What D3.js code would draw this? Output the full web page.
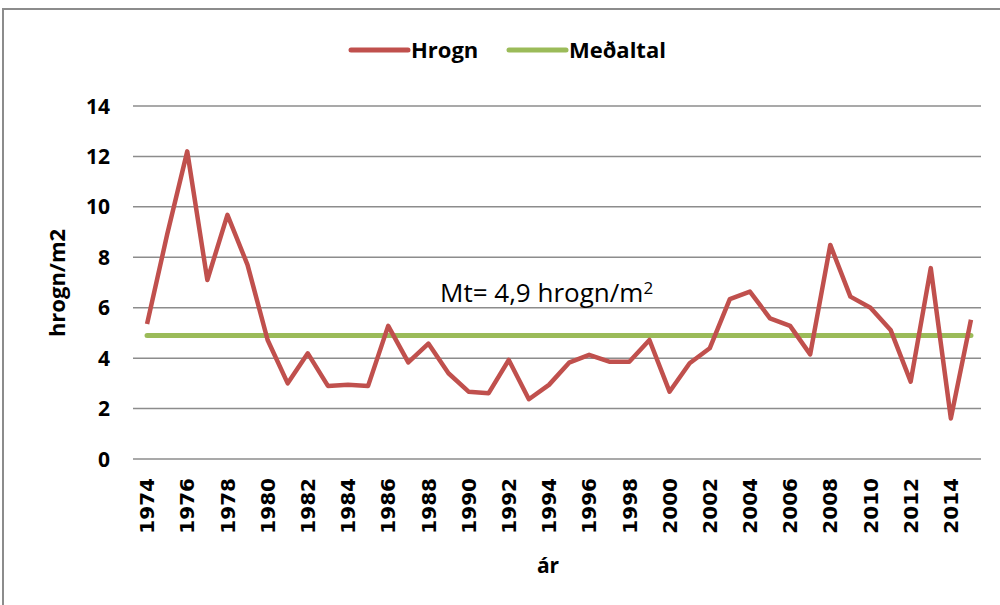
<!DOCTYPE html>
<html>
<head>
<meta charset="utf-8">
<script src="https://cdn.jsdelivr.net/npm/d3@7"></script>
<style>
  body { margin: 0; background: #fff; }
  svg { display: block; font-family: "Open Sans", sans-serif; }
</style>
</head>
<body>
<div id="chart"></div>
<script>
// Data
var years = [1974, 1975, 1976, 1977, 1978, 1979, 1980, 1981, 1982, 1983, 1984, 1985, 1986, 1987,
             1988, 1989, 1990, 1991, 1992, 1993, 1994, 1995, 1996, 1997, 1998, 1999, 2000, 2001,
             2002, 2003, 2004, 2005, 2006, 2007, 2008, 2009, 2010, 2011, 2012, 2013, 2014, 2015];
var hrogn = [5.35, 8.9, 12.2, 7.1, 9.68, 7.7, 4.72, 3.0, 4.19, 2.9, 2.94, 2.9, 5.28, 3.83,
             4.58, 3.4, 2.67, 2.61, 3.93, 2.37, 2.94, 3.82, 4.13, 3.86, 3.86, 4.72, 2.67, 3.8,
             4.39, 6.34, 6.64, 5.58, 5.28, 4.15, 8.49, 6.44, 6.0, 5.12, 3.07, 7.57, 1.61, 5.52];
var medaltal = 4.9;
var yTicks = [0, 2, 4, 6, 8, 10, 12, 14];
var xTickYears = [1974, 1976, 1978, 1980, 1982, 1984, 1986, 1988, 1990, 1992, 1994, 1996, 1998,
                  2000, 2002, 2004, 2006, 2008, 2010, 2012, 2014];

var width = 1000, height = 605;
var margin = { top: 106, right: 19, bottom: 146, left: 137 };
var plotW = width - margin.left - margin.right;
var plotH = height - margin.top - margin.bottom;

var svg = d3.select("#chart").append("svg")
    .attr("width", width)
    .attr("height", height);

// outer border
svg.append("rect")
    .attr("x", 3).attr("y", 9)
    .attr("width", 1010).attr("height", 610)
    .attr("fill", "none")
    .attr("stroke", "#8c8c8c")
    .attr("stroke-width", 2);

var g = svg.append("g")
    .attr("transform", "translate(" + margin.left + "," + margin.top + ")");

var x = d3.scaleBand()
    .domain(years)
    .range([0, plotW]);

var y = d3.scaleLinear()
    .domain([0, 14])
    .range([plotH, 0]);

function cx(d) { return x(d) + x.bandwidth() / 2; }

// gridlines (with small ticks to the left)
g.selectAll(".grid")
    .data(yTicks)
    .enter().append("line")
    .attr("x1", -4).attr("x2", plotW)
    .attr("y1", function (d) { return y(d); })
    .attr("y2", function (d) { return y(d); })
    .attr("stroke", "#8c8c8c")
    .attr("stroke-width", 1.5);

// y tick labels
g.selectAll(".ylab")
    .data(yTicks)
    .enter().append("text")
    .attr("x", -27)
    .attr("y", function (d) { return y(d); })
    .attr("dy", "0.36em")
    .attr("text-anchor", "end")
    .style("font-size", "21px")
    .style("font-weight", "bold")
    .text(function (d) { return d; });

// x tick labels
g.selectAll(".xlab")
    .data(xTickYears)
    .enter().append("text")
    .attr("transform", function (d) {
        return "translate(" + cx(d) + "," + (plotH + 19) + ") rotate(-90)";
    })
    .attr("dy", "0.36em")
    .attr("text-anchor", "end")
    .style("font-family", "DejaVu Sans")
    .style("font-size", "20px")
    .style("font-weight", "bold")
    .text(function (d) { return d; });

// axis titles
svg.append("text")
    .attr("transform", "translate(57,283) rotate(-90)")
    .attr("dy", "0.36em")
    .attr("text-anchor", "middle")
    .style("font-size", "22px")
    .style("font-weight", "bold")
    .text("hrogn/m2");

svg.append("text")
    .attr("x", 548)
    .attr("y", 573)
    .attr("text-anchor", "middle")
    .style("font-size", "21px")
    .style("font-weight", "bold")
    .text("ár");

// mean line
g.append("line")
    .attr("x1", cx(years[0]))
    .attr("x2", cx(years[years.length - 1]))
    .attr("y1", y(medaltal))
    .attr("y2", y(medaltal))
    .attr("stroke", "#9bbb59")
    .attr("stroke-width", 5)
    .attr("stroke-linecap", "round");

// hrogn line
var line = d3.line()
    .x(function (d, i) { return cx(years[i]); })
    .y(function (d) { return y(d); });

g.append("path")
    .datum(hrogn)
    .attr("d", line)
    .attr("fill", "none")
    .attr("stroke", "#c0504d")
    .attr("stroke-width", 4.5)
    .attr("stroke-linejoin", "round");

// mean annotation
svg.append("text")
    .attr("x", 440)
    .attr("y", 302)
    .style("font-size", "26px")
    .text("Mt= 4,9 hrogn/m")
    .append("tspan")
    .attr("dy", "-0.45em")
    .style("font-size", "17px")
    .text("2");

// legend
var legend = [
    { name: "Hrogn", color: "#c0504d", x: 351 },
    { name: "Meðaltal", color: "#9bbb59", x: 509 }
];
var lg = svg.selectAll(".legend")
    .data(legend)
    .enter().append("g")
    .attr("transform", function (d) { return "translate(" + d.x + ",50)"; });
lg.append("line")
    .attr("x1", 0).attr("x2", 57)
    .attr("stroke", function (d) { return d.color; })
    .attr("stroke-width", 5)
    .attr("stroke-linecap", "round");
lg.append("text")
    .attr("x", 60)
    .attr("dy", "0.36em")
    .style("font-size", "22px")
    .style("font-weight", "bold")
    .text(function (d) { return d.name; });
</script>
</body>
</html>
